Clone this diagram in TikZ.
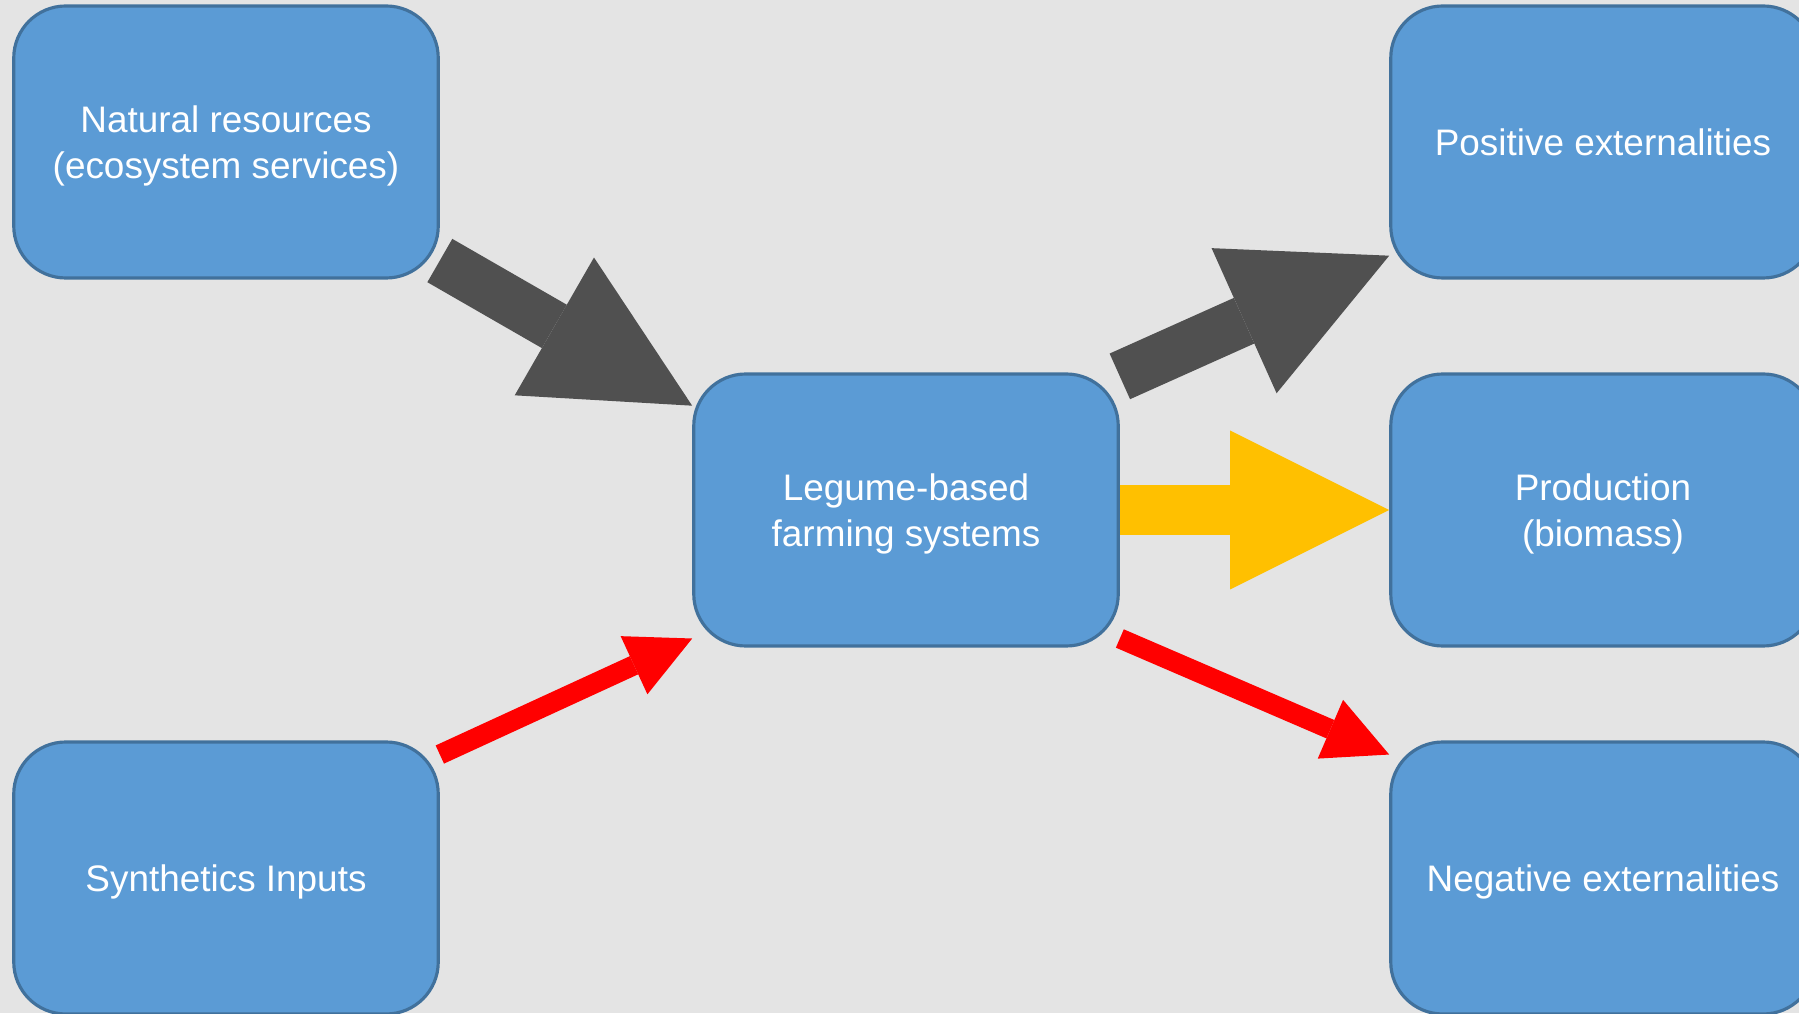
\documentclass[tikz,border=0pt]{standalone}
\usepackage{fontspec}
\setmainfont{Liberation Sans}
\usetikzlibrary{arrows.meta}

\definecolor{paper}{RGB}{228,228,228}
\definecolor{boxfill}{RGB}{91,155,213}
\definecolor{boxline}{RGB}{65,113,156}
\definecolor{darkarrow}{RGB}{80,80,80}
\definecolor{goldarrow}{RGB}{255,192,0}
\definecolor{redarrow}{RGB}{255,0,0}

\tikzset{
  blockbox/.style={rectangle,rounded corners=0.52cm,draw=boxline,fill=boxfill,line width=0.9pt,
    minimum width=4.245cm,minimum height=2.72cm,text=white,align=center,text depth=-1pt,
    font=\fontsize{10.5}{13.1}\selectfont},
  bigarrow/.style={line width=0.5cm,-{Triangle[length=1.59cm,width=1.59cm,line width=0pt]}},
  thinarrow/.style={line width=0.2cm,-{Triangle[length=0.64cm,width=0.64cm,line width=0pt]}}
}

\begin{document}
\begin{tikzpicture}
    \fill[paper] (0,0) rectangle (17.99,10.13);
    \useasboundingbox (0,0) rectangle (17.99,10.13);
    \clip (0,0) rectangle (17.99,10.13);
    \node[blockbox] (nat)  at (2.26,8.71)  {Natural resources\\(ecosystem services)};
    \node[blockbox] (syn)  at (2.26,1.35)  {Synthetics Inputs};
    \node[blockbox] (leg)  at (9.06,5.03)  {Legume-based\\farming systems};
    \node[blockbox] (pos)  at (16.03,8.71) {Positive externalities};
    \node[blockbox] (prod) at (16.03,5.03) {Production\\(biomass)};
    \node[blockbox] (neg)  at (16.03,1.35) {Negative externalities};
    \path[bigarrow, color=darkarrow]
    (nat.-29) edge (leg.154);
    \path[bigarrow, color=darkarrow]
    (leg.32) edge (pos.208);
    \path[bigarrow, color=goldarrow]
    (leg.east) edge (prod.west);
    \path[thinarrow, color=redarrow]
    (leg.-31) edge (neg.150);
    \path[thinarrow, color=redarrow]
    (syn.30) edge (leg.211);
  \end{tikzpicture}
\end{document}
